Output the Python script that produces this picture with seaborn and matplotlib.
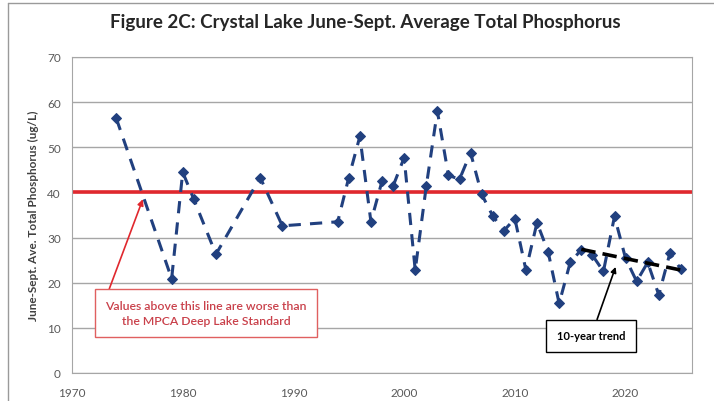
import pandas as pd
import seaborn as sns
import matplotlib.pyplot as plt
from matplotlib.lines import Line2D

years = [1974, 1979, 1980, 1981, 1983, 1987, 1989, 1994, 1995, 1996, 1997, 1998,
         1999, 2000, 2001, 2002, 2003, 2004, 2005, 2006, 2007, 2008, 2009, 2010,
         2011, 2012, 2013, 2014, 2015, 2016, 2017, 2018, 2019, 2020, 2021, 2022,
         2023, 2024, 2025]
tp = [56.4, 20.9, 44.5, 38.5, 26.3, 43.3, 32.6, 33.5, 43.3, 52.4, 33.5, 42.5,
      41.4, 47.7, 22.8, 41.4, 58.0, 43.8, 42.9, 48.8, 39.6, 34.8, 31.5, 34.2,
      22.8, 33.3, 26.9, 15.4, 24.5, 27.3, 26.1, 22.5, 34.7, 25.4, 20.3, 24.5,
      17.3, 26.5, 23.0]
trend_years = [2016, 2025]
trend_vals = [27.4, 22.8]
standard = 40

df = pd.DataFrame({'year': years, 'tp': tp})

sns.set_style('white')
plt.rcParams['font.family'] = ['Lato', 'DejaVu Sans']

fig, ax = plt.subplots(figsize=(7.14, 4.02), dpi=100)
fig.subplots_adjust(left=72/714, right=692/714, top=1-58/402, bottom=1-374/402)

ax.set_xlim(1970, 2026)
ax.set_ylim(0, 70)
ax.set_yticks(range(0, 71, 10))
ax.set_xticks(range(1970, 2021, 10))
ax.set_xticks(range(1970, 2027), minor=True)
ax.yaxis.grid(True, color='#a6a6a6', lw=1)
ax.set_axisbelow(True)
for s in ax.spines.values():
    s.set_color('#a6a6a6')
ax.tick_params(axis='both', which='both', direction='out', color='#a6a6a6',
               labelcolor='#595959', labelsize=8.5, length=4)
ax.tick_params(axis='x', which='minor', length=3)
ax.tick_params(axis='x', pad=6)
ax.tick_params(axis='y', pad=4)

ax.axhline(standard, color='#e0282e', lw=2.6, zorder=2)

sns.lineplot(data=df, x='year', y='tp', ax=ax, color='#21407f', lw=2.2,
             linestyle=(0, (4, 3)), marker='D', markersize=5,
             markeredgecolor='#21407f', zorder=3)
sns.lineplot(x=trend_years, y=trend_vals, ax=ax, color='black', lw=2.6,
             linestyle=(0, (4, 2)), zorder=4)

ax.set_xlabel('')
ax.set_ylabel('June-Sept. Ave. Total Phosphorus (ug/L)', fontsize=8.5,
              fontweight='bold', color='#404040', labelpad=6)
fig.suptitle('Figure 2C: Crystal Lake June-Sept. Average Total Phosphorus',
             x=0.512, y=0.965, fontsize=13.5, fontweight='bold', color='#262626')

ax.annotate('Values above this line are worse than\nthe MPCA Deep Lake Standard',
            xy=(1976.4, 38.5), xytext=(1982.1, 13.3), ha='center', va='center',
            fontsize=8.8, fontweight='semibold', color='#c9404a', linespacing=1.5,
            bbox=dict(boxstyle='square,pad=0.85', fc='white', ec='#e06060', lw=1),
            arrowprops=dict(arrowstyle='-|>', color='#e0282e', lw=1.2,
                            shrinkA=0, shrinkB=0, relpos=(0, 1)))
ax.annotate('10-year trend', xy=(2019.1, 23.5), xytext=(2016.9, 8.2),
            ha='center', va='center', fontsize=8, fontweight='bold', color='black',
            bbox=dict(boxstyle='square,pad=0.95', fc='white', ec='black', lw=1),
            arrowprops=dict(arrowstyle='-|>', color='black', lw=1.2,
                            shrinkA=0, shrinkB=0))

fig.add_artist(Line2D([8/714, 8/714], [0, 1-4/402], color='#9a9a9a', lw=1))
fig.add_artist(Line2D([8/714, 1], [1-4/402, 1-4/402], color='#9a9a9a', lw=1))

fig.savefig('out.png', dpi=100)
